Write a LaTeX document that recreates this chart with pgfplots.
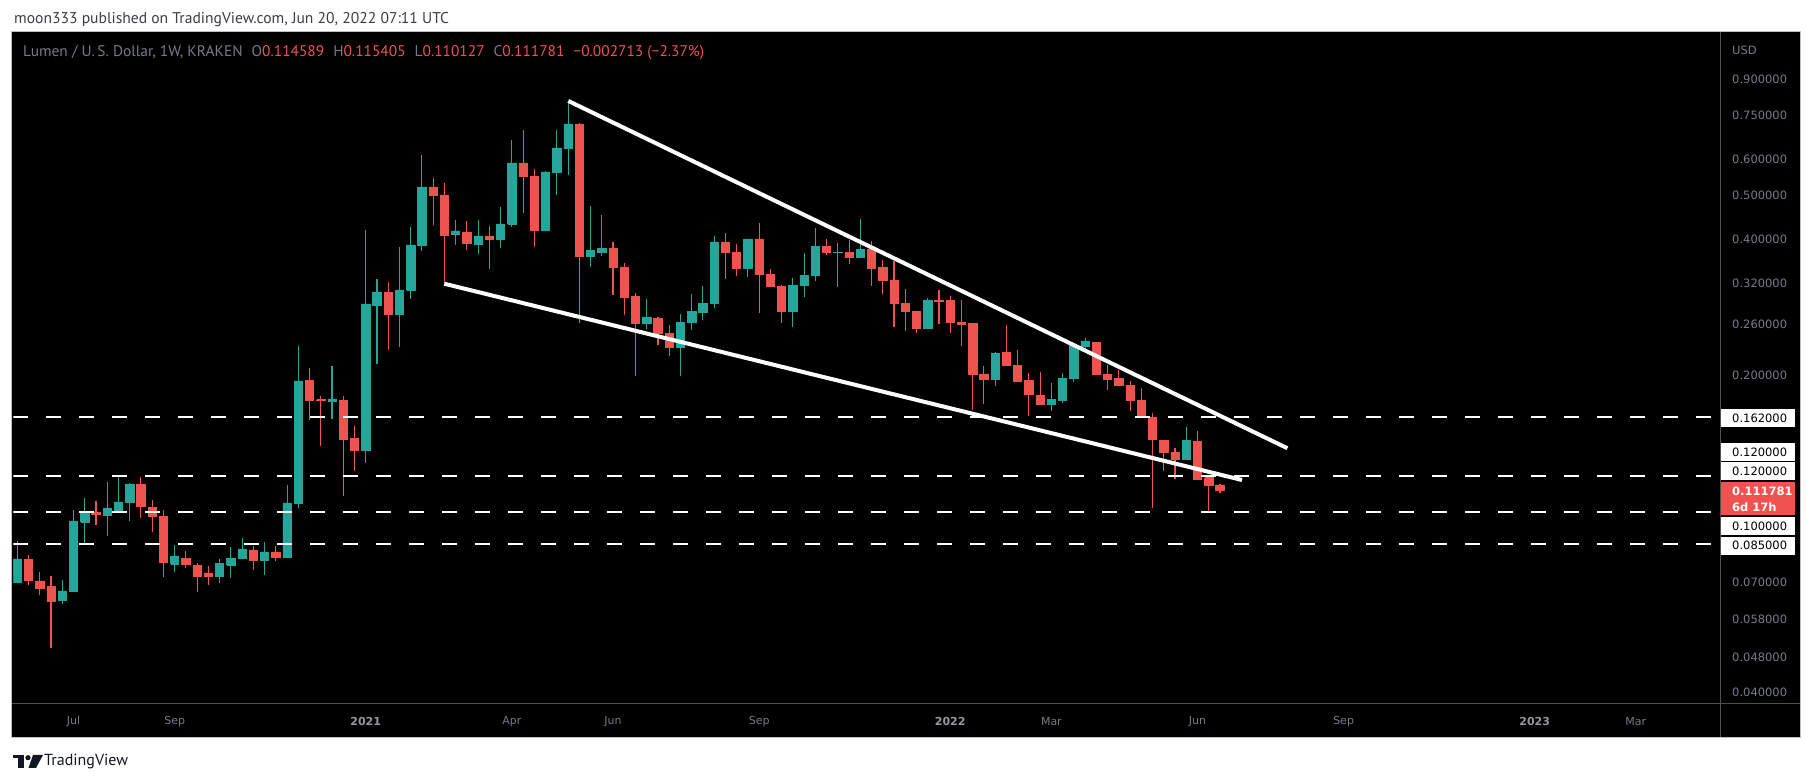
\documentclass[border=0pt]{standalone}
\usepackage{fontspec}
\setmainfont{DejaVu Sans}
\newfontfamily\pts{PT Sans}
\usepackage{pgfplots}
\usepackage{pgfplotstable}
\pgfplotsset{compat=1.18}
\definecolor{tvgreen}{RGB}{38,166,154}
\definecolor{tvred}{RGB}{239,83,80}
\definecolor{axisgrey}{RGB}{120,123,134}
\definecolor{yeargrey}{RGB}{150,152,160}
\definecolor{sepgrey}{RGB}{80,80,85}
\definecolor{framegrey}{RGB}{190,190,198}
\definecolor{hdrgrey}{RGB}{60,62,70}
\definecolor{tvdark}{RGB}{19,23,34}

\pgfplotstableread{
i o h l c
0 0.0700 0.0865 0.0698 0.0789
1 0.0789 0.0805 0.0693 0.0707
2 0.0706 0.0739 0.0657 0.0681
3 0.0685 0.0724 0.0501 0.0635
4 0.0639 0.0709 0.0629 0.0671
5 0.0669 0.1012 0.0669 0.0957
6 0.0952 0.1076 0.0856 0.1002
7 0.1002 0.1059 0.0938 0.0988
8 0.0987 0.1166 0.0887 0.1022
9 0.1012 0.1194 0.0997 0.1054
10 0.1050 0.1161 0.0959 0.1155
11 0.1155 0.1196 0.0973 0.1029
12 0.1027 0.1065 0.0905 0.0978
13 0.0981 0.1012 0.0720 0.0775
14 0.0769 0.0847 0.0739 0.0801
15 0.0793 0.0822 0.0754 0.0769
16 0.0765 0.0773 0.0667 0.0724
17 0.0735 0.0762 0.0692 0.0724
18 0.0724 0.0789 0.0699 0.0773
19 0.0765 0.0839 0.0717 0.0793
20 0.0793 0.0878 0.0793 0.0830
21 0.0826 0.0843 0.0746 0.0785
22 0.0785 0.0860 0.0728 0.0818
23 0.0818 0.0843 0.0781 0.0797
24 0.0797 0.1149 0.0797 0.1049
25 0.1045 0.2326 0.1020 0.1948
26 0.1957 0.2080 0.1601 0.1763
27 0.1772 0.1805 0.1403 0.1763
28 0.1754 0.2102 0.1609 0.1778
29 0.1761 0.1805 0.1088 0.1446
30 0.1458 0.1550 0.1236 0.1368
31 0.1368 0.4192 0.1287 0.2879
32 0.2855 0.3269 0.2127 0.3060
33 0.3060 0.3219 0.2283 0.2728
34 0.2728 0.3846 0.2319 0.3091
35 0.3085 0.4256 0.2958 0.3885
36 0.3871 0.6135 0.3774 0.5215
37 0.5215 0.5458 0.4307 0.4990
38 0.5007 0.5321 0.3209 0.4073
39 0.4094 0.4410 0.3891 0.4171
40 0.4150 0.4388 0.3794 0.3911
41 0.3891 0.4410 0.3717 0.4066
42 0.4066 0.4278 0.3445 0.3992
43 0.3992 0.4711 0.3833 0.4321
44 0.4314 0.6620 0.4264 0.5891
45 0.5891 0.6965 0.4578 0.5496
46 0.5500 0.5714 0.3852 0.4178
47 0.4178 0.5656 0.4178 0.5627
48 0.5608 0.6965 0.5015 0.6356
49 0.6334 0.7974 0.5551 0.7180
50 0.7180 0.7217 0.2619 0.3661
51 0.3660 0.4734 0.3479 0.3787
52 0.3736 0.4523 0.3679 0.3825
53 0.3825 0.3944 0.3018 0.3462
54 0.3474 0.3545 0.2727 0.2973
55 0.2998 0.3044 0.2001 0.2605
56 0.2605 0.2953 0.2540 0.2695
57 0.2681 0.2695 0.2342 0.2476
58 0.2474 0.2588 0.2215 0.2306
59 0.2306 0.2736 0.2001 0.2627
60 0.2618 0.3029 0.2527 0.2778
61 0.2755 0.3154 0.2659 0.2893
62 0.2884 0.4065 0.2826 0.3944
63 0.3944 0.4128 0.3274 0.3736
64 0.3748 0.3904 0.3324 0.3444
65 0.3444 0.4005 0.3307 0.4005
66 0.4005 0.4343 0.2755 0.3341
67 0.3352 0.3438 0.3134 0.3144
68 0.3154 0.3170 0.2618 0.2769
69 0.2769 0.3285 0.2566 0.3170
70 0.3159 0.3729 0.2988 0.3335
71 0.3324 0.4234 0.3241 0.3864
72 0.3864 0.4005 0.3692 0.3736
73 0.3736 0.3924 0.3144 0.3748
74 0.3748 0.3984 0.3533 0.3642
75 0.3642 0.4432 0.3642 0.3806
76 0.3806 0.3964 0.3159 0.3444
77 0.3474 0.3599 0.3034 0.3241
78 0.3252 0.3581 0.2566 0.2884
79 0.2893 0.3107 0.2514 0.2769
80 0.2778 0.2778 0.2489 0.2540
81 0.2540 0.2968 0.2532 0.2938
82 0.2938 0.3091 0.2605 0.2923
83 0.2938 0.2998 0.2489 0.2618
84 0.2627 0.2938 0.2330 0.2592
85 0.2609 0.2613 0.1684 0.2011
86 0.2018 0.2101 0.1736 0.1961
87 0.1961 0.2256 0.1902 0.2245
88 0.2256 0.2588 0.2100 0.2105
89 0.2112 0.2279 0.1941 0.1941
90 0.1957 0.2028 0.1633 0.1817
91 0.1808 0.2038 0.1727 0.1727
92 0.1727 0.1928 0.1675 0.1777
93 0.1762 0.2028 0.1745 0.1977
94 0.1971 0.2358 0.1941 0.2338
95 0.2318 0.2422 0.2280 0.2386
96 0.2370 0.2374 0.2011 0.2011
97 0.2018 0.2112 0.1864 0.1967
98 0.1977 0.2059 0.1902 0.1902
99 0.1908 0.1947 0.1675 0.1762
100 0.1768 0.1879 0.1633 0.1633
101 0.1619 0.1655 0.1024 0.1446
102 0.1441 0.1444 0.1235 0.1354
103 0.1357 0.1384 0.1186 0.1306
104 0.1306 0.1542 0.1306 0.1443
105 0.1436 0.1511 0.1180 0.1180
106 0.1192 0.1192 0.1003 0.1145
107 0.114589 0.115405 0.110127 0.111781
}\ohlc

\pgfplotstableread{
x y
49.02 0.807
113.0 0.1384
}\upperline
\pgfplotstableread{
x y
37.99 0.3191
108.96 0.1178
}\lowerline

\begin{document}
\begin{tikzpicture}[x=1pt,y=1pt]
\fill[white] (0,0) rectangle (1813,783);
\fill[black] (11.6,45) rectangle (1800,751);
\begin{axis}[
  at={(13.3pt,79pt)}, anchor=south west,
  scale only axis, width=1707.4pt, height=671pt,
  xmin=-0.356, xmax=151.55,
  ymode=log, ymin=0.03779, ymax=1.1394,
  axis line style={draw=none},
  tick style={draw=none},
  yminorticks=false, xminorticks=false,
  xtick={5,14,31,44,53,66,83,92,105,118,135,144},
  xticklabels={Jul,Sep,{\bfseries\color{yeargrey}2021},Apr,Jun,Sep,{\bfseries\color{yeargrey}2022},Mar,Jun,Sep,{\bfseries\color{yeargrey}2023},Mar},
  xticklabel style={anchor=center, yshift=-17.7pt, text=axisgrey, font=\fontsize{11}{12}\selectfont},
  ytick={0.04,0.048,0.058,0.07,0.2,0.26,0.32,0.4,0.5,0.6,0.75,0.9},
  yticklabels={0.040000,0.048000,0.058000,0.070000,0.200000,0.260000,0.320000,0.400000,0.500000,0.600000,0.750000,0.900000},
  yticklabel pos=right,
  yticklabel style={anchor=west, inner xsep=0pt, xshift=11.3pt, text=axisgrey, font=\fontsize{11.5}{12}\selectfont},
]
\pgfplotsforeachungrouped \k in {0,...,107}{%
  \pgfplotstablegetelem{\k}{o}\of\ohlc \let\vo\pgfplotsretval
  \pgfplotstablegetelem{\k}{h}\of\ohlc \let\vh\pgfplotsretval
  \pgfplotstablegetelem{\k}{l}\of\ohlc \let\vl\pgfplotsretval
  \pgfplotstablegetelem{\k}{c}\of\ohlc \let\vc\pgfplotsretval
  \pgfplotstablegetelem{\k}{i}\of\ohlc \let\vx\pgfplotsretval
  \pgfmathtruncatemacro\isred{(\vc<\vo) ? 1 : 0}%
  \ifnum\isred=1 \def\col{tvred}\else\def\col{tvgreen}\fi
  \pgfmathsetmacro\xa{\vx-0.37}%
  \pgfmathsetmacro\xb{\vx+0.37}%
  \edef\doplot{%
    \noexpand\addplot[draw=\col, line width=1.1pt, forget plot] coordinates {(\vx,\vl) (\vx,\vh)};
    \noexpand\addplot[fill=\col, draw=\col, line width=0.7pt, forget plot] coordinates {(\xa,\vo) (\xb,\vo) (\xb,\vc) (\xa,\vc) (\xa,\vo)};
  }%
  \doplot
}
\addplot[white, line width=2pt, dash pattern=on 14.7pt off 18.3pt, forget plot] coordinates {(-0.356,0.162) (151.55,0.162)};
\addplot[white, line width=2pt, dash pattern=on 14.7pt off 18.3pt, forget plot] coordinates {(-0.356,0.12) (151.55,0.12)};
\addplot[white, line width=2pt, dash pattern=on 14.7pt off 18.3pt, forget plot] coordinates {(-0.356,0.1) (151.55,0.1)};
\addplot[white, line width=2pt, dash pattern=on 14.7pt off 18.3pt, forget plot] coordinates {(-0.356,0.085) (151.55,0.085)};
\addplot[white, line width=4pt, forget plot] table[x=x, y=y] {\upperline};
\addplot[white, line width=4pt, forget plot] table[x=x, y=y] {\lowerline};
\end{axis}
% separators and frame
\draw[sepgrey, line width=1pt] (1720.7,45) -- (1720.7,751);
\draw[sepgrey, line width=1pt] (11.6,79) -- (1800,79);
\draw[framegrey, line width=1pt] (11.6,45) rectangle (1800,751);
% header
\node[anchor=west, inner sep=0pt, text=hdrgrey, font=\pts\fontsize{15.6}{17}\selectfont] at (14,763.3) {moon333 published on TradingView.com, Jun 20, 2022 07:11 UTC};
% legend
\node[anchor=west, inner sep=0pt, text=axisgrey, font=\pts\fontsize{15.4}{17}\selectfont] at (23,730) {Lumen / U.\,S. Dollar, 1W, KRAKEN\hspace{9pt}O\textcolor{tvred}{0.114589}\hspace{9pt}H\textcolor{tvred}{0.115405}\hspace{9pt}L\textcolor{tvred}{0.110127}\hspace{9pt}C\textcolor{tvred}{0.111781}\hspace{9pt}\textcolor{tvred}{−0.002713 (−2.37\%)}};
\node[anchor=west, inner sep=0pt, text=axisgrey, font=\fontsize{11.5}{12}\selectfont] at (1732,733) {USD};
% boxed price labels
\fill[white] (1721,355.8) rectangle (1795,373.8);
\node[anchor=west, inner sep=0pt, font=\fontsize{11.5}{12}\selectfont] at (1732,364.8) {0.162000};
\fill[white] (1721,322) rectangle (1795,340);
\node[anchor=west, inner sep=0pt, font=\fontsize{11.5}{12}\selectfont] at (1732,331) {0.120000};
\fill[white] (1721,302.8) rectangle (1795,320.8);
\node[anchor=west, inner sep=0pt, font=\fontsize{11.5}{12}\selectfont] at (1732,311.8) {0.120000};
\fill[tvred] (1721,267.5) rectangle (1795,301);
\node[anchor=west, inner sep=0pt, text=white, font=\bfseries\fontsize{11.5}{12}\selectfont] at (1732,292) {0.111781};
\node[anchor=west, inner sep=0pt, text=white, font=\bfseries\fontsize{11.5}{12}\selectfont] at (1732,276) {6d 17h};
\fill[white] (1721,247.8) rectangle (1795,265.8);
\node[anchor=west, inner sep=0pt, font=\fontsize{11.5}{12}\selectfont] at (1732,256.8) {0.100000};
\fill[white] (1721,228.3) rectangle (1795,246.3);
\node[anchor=west, inner sep=0pt, font=\fontsize{11.5}{12}\selectfont] at (1732,237.3) {0.085000};
% footer logo
\fill[tvdark] (13,24.5) rectangle (24,28);
\fill[tvdark] (18,15) rectangle (24,28);
\fill[tvdark] (28,25.3) circle (2.6);
\fill[tvdark] (33,28) -- (43,28) -- (36,15) -- (28.5,15) -- cycle;
\node[anchor=west, inner sep=0pt, text=tvdark, font=\pts\fontsize{16}{18}\selectfont] at (44,21) {TradingView};
\end{tikzpicture}
\end{document}
